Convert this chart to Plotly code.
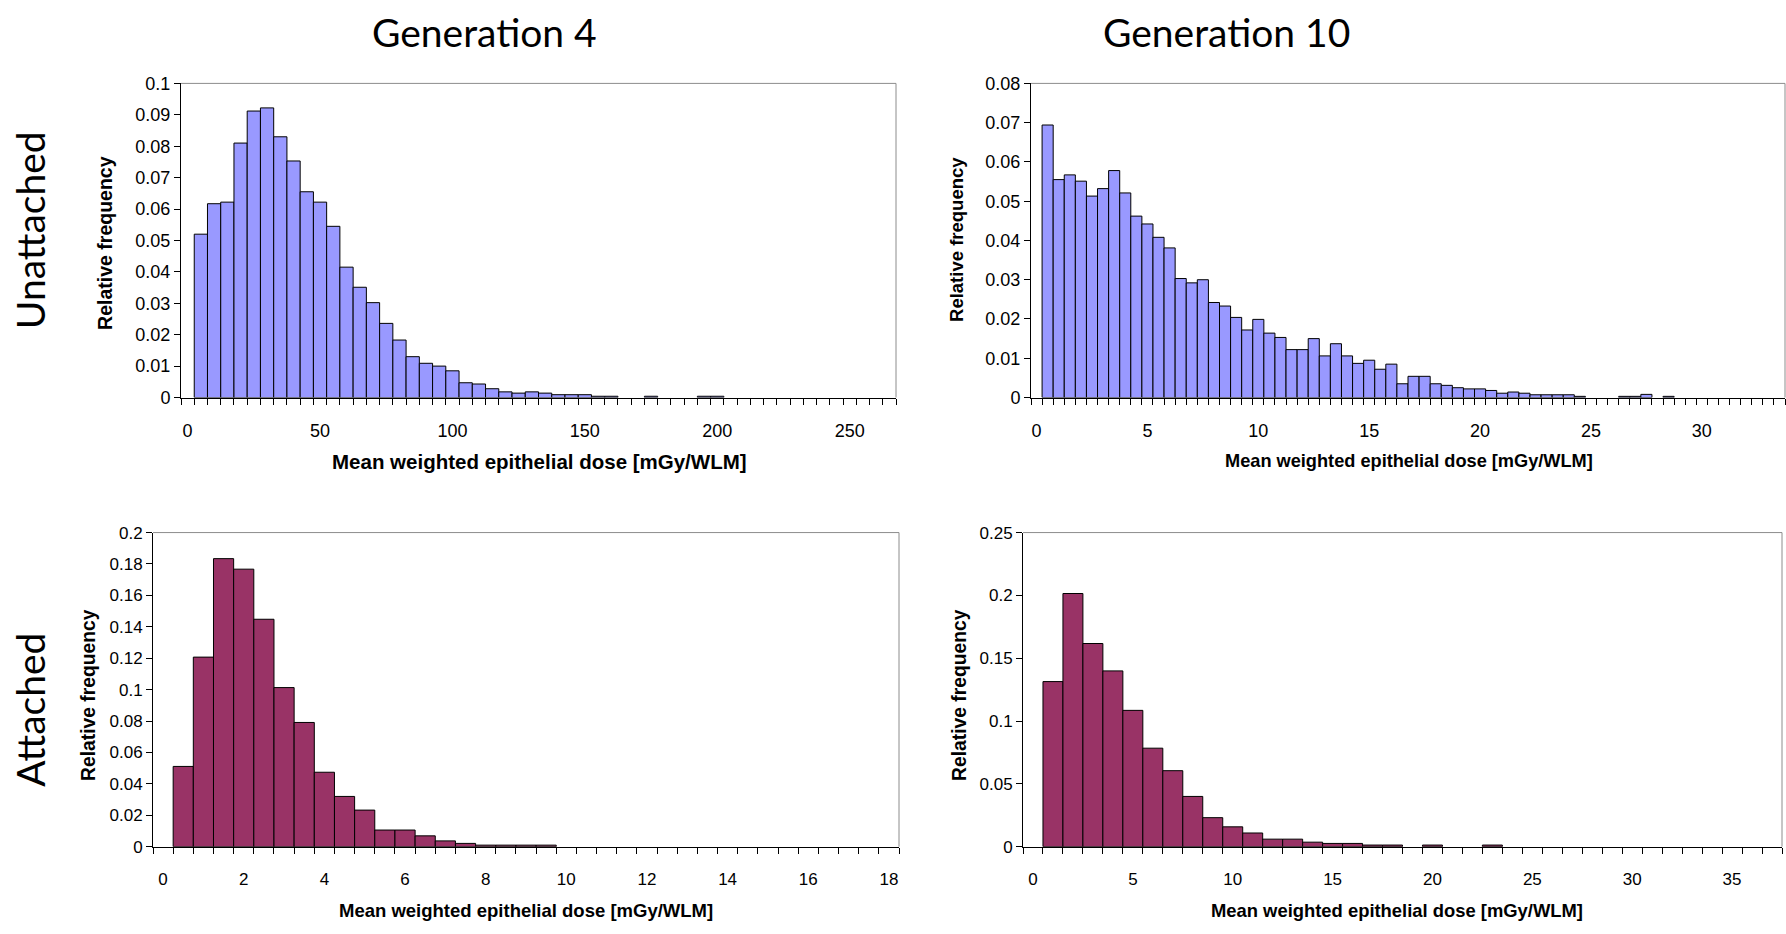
import plotly.graph_objects as go

W, H = 1786, 934

# ---------------- data ----------------
gen4_unatt_dose = [5, 10, 15, 20, 25, 30, 35, 40, 45, 50, 55, 60, 65, 70, 75, 80, 85, 90, 95, 100,
                   105, 110, 115, 120, 125, 130, 135, 140, 145, 150, 155, 160, 165, 170, 175, 180,
                   185, 190, 195, 200]
gen4_unatt_freq = [0.052, 0.0617, 0.0622, 0.081, 0.0912, 0.0922, 0.083, 0.0753, 0.0655, 0.0622,
                   0.0545, 0.0415, 0.0351, 0.0302, 0.0236, 0.0183, 0.013, 0.0109, 0.0100, 0.0085,
                   0.0047, 0.0043, 0.0028, 0.0018, 0.0014, 0.0018, 0.0014, 0.0009, 0.0009, 0.0009,
                   0.0004, 0.0004, 0, 0, 0.0004, 0, 0, 0, 0.0004, 0.0004]

gen10_unatt_dose = [0.5, 1.0, 1.5, 2.0, 2.5, 3.0, 3.5, 4.0, 4.5, 5.0, 5.5, 6.0, 6.5, 7.0, 7.5, 8.0,
                    8.5, 9.0, 9.5, 10.0, 10.5, 11.0, 11.5, 12.0, 12.5, 13.0, 13.5, 14.0, 14.5, 15.0,
                    15.5, 16.0, 16.5, 17.0, 17.5, 18.0, 18.5, 19.0, 19.5, 20.0, 20.5, 21.0, 21.5,
                    22.0, 22.5, 23.0, 23.5, 24.0, 24.5, 25.0, 25.5, 26.0, 26.5, 27.0, 27.5, 28.0, 28.5]
gen10_unatt_freq = [0.0694, 0.0555, 0.0567, 0.0551, 0.0513, 0.0532, 0.0578, 0.0521, 0.0462, 0.0442,
                    0.0408, 0.0381, 0.0303, 0.0292, 0.0300, 0.0242, 0.0233, 0.0204, 0.0172, 0.0199,
                    0.0164, 0.0153, 0.0122, 0.0122, 0.0150, 0.0106, 0.0137, 0.0106, 0.0087, 0.0095,
                    0.0072, 0.0085, 0.0035, 0.0054, 0.0054, 0.0035, 0.0031, 0.0025, 0.0022, 0.0022,
                    0.0018, 0.0011, 0.0014, 0.0011, 0.0007, 0.0007, 0.0007, 0.0007, 0.0003, 0, 0, 0,
                    0.0003, 0.0003, 0.0008, 0, 0.0003]

gen4_att_dose = [0.5, 1.0, 1.5, 2.0, 2.5, 3.0, 3.5, 4.0, 4.5, 5.0, 5.5, 6.0, 6.5, 7.0, 7.5, 8.0,
                 8.5, 9.0, 9.5]
gen4_att_freq = [0.0511, 0.1207, 0.1834, 0.1767, 0.1448, 0.1013, 0.0791, 0.0474, 0.032, 0.0233,
                 0.0106, 0.0106, 0.0069, 0.0037, 0.0021, 0.001, 0.001, 0.001, 0.001]

gen10_att_dose = [1, 2, 3, 4, 5, 6, 7, 8, 9, 10, 11, 12, 13, 14, 15, 16, 17, 18, 19, 20, 21, 22, 23]
gen10_att_freq = [0.1314, 0.2015, 0.1617, 0.1399, 0.1085, 0.0784, 0.0605, 0.040, 0.0231, 0.0158,
                  0.0109, 0.006, 0.006, 0.0036, 0.0026, 0.0026, 0.0013, 0.0013, 0, 0.0013, 0, 0,
                  0.0013]

col_titles = ["Generation 4", "Generation 10"]
row_titles = ["Unattached", "Attached"]
x_title = "Mean weighted epithelial dose [mGy/WLM]"
y_title = "Relative frequency"

# ---------------- panel config ----------------
panels = [
    dict(x=gen4_unatt_dose, y=gen4_unatt_freq, w=5, xr=[-2.5, 267.5],
         xt=[0, 50, 100, 150, 200, 250], ymax=0.1, dy=0.01, color="#9999FF",
         box=(181, 75, 896, 396), tick=18, xtf=20.5, ytf=19.5,
         xtpos=(539, 461), ytpos=(105, 238)),
    dict(x=gen10_unatt_dose, y=gen10_unatt_freq, w=0.5, xr=[-0.25, 33.75],
         xt=[0, 5, 10, 15, 20, 25, 30], ymax=0.08, dy=0.01, color="#9999FF",
         box=(1031, 75, 1785, 396), tick=18, xtf=18.2, ytf=18.5,
         xtpos=(1409, 461), ytpos=(957, 235)),
    dict(x=gen4_att_dose, y=gen4_att_freq, w=0.5, xr=[-0.25, 18.25],
         xt=[0, 2, 4, 6, 8, 10, 12, 14, 16, 18], ymax=0.2, dy=0.02, color="#993366",
         box=(153, 534, 899, 855), tick=17, xtf=18.5, ytf=19.3,
         xtpos=(526, 920), ytpos=(88, 700)),
    dict(x=gen10_att_dose, y=gen10_att_freq, w=1, xr=[-0.5, 37.5],
         xt=[0, 5, 10, 15, 20, 25, 30, 35], ymax=0.25, dy=0.05, color="#993366",
         box=(1023, 534, 1782, 855), tick=17, xtf=18.4, ytf=19.3,
         xtpos=(1397, 920), ytpos=(959, 700)),
]

FONT = "Liberation Sans, Arial, sans-serif"
TITLE_FONT = "Lato, Carlito, Calibri, sans-serif"

fig = go.Figure()
layout = dict(
    width=W, height=H, margin=dict(l=0, r=0, t=0, b=0),
    paper_bgcolor="white", plot_bgcolor="white", showlegend=False,
    font=dict(family=FONT, color="black"),
)
shapes = []
annotations = []

for i, p in enumerate(panels, start=1):
    xa = "x" if i == 1 else f"x{i}"
    ya = "y" if i == 1 else f"y{i}"
    xs = [d for d, f in zip(p["x"], p["y"]) if f > 0]
    ys = [f for f in p["y"] if f > 0]
    fig.add_trace(go.Bar(
        x=xs, y=ys, width=p["w"], xaxis=xa, yaxis=ya,
        marker=dict(color=p["color"], line=dict(color="black", width=1)),
        hoverinfo="x+y",
    ))
    x0, y0, x1, y1 = p["box"]
    xkey = "xaxis" if i == 1 else f"xaxis{i}"
    ykey = "yaxis" if i == 1 else f"yaxis{i}"
    layout[xkey] = dict(
        domain=[x0 / W, x1 / W], anchor=ya, range=p["xr"],
        tickmode="array", tickvals=p["xt"], ticktext=[str(v) for v in p["xt"]],
        ticks="outside", ticklen=17, tickcolor="rgba(0,0,0,0)",
        minor=dict(tickmode="linear", tick0=p["xr"][0], dtick=p["w"], ticks="outside",
                   ticklen=6, tickcolor="black", tickwidth=1, showgrid=False),
        showline=True, linecolor="black", linewidth=1, showgrid=False, zeroline=False,
        tickfont=dict(size=p["tick"], family=FONT, color="black"), fixedrange=True,
    )
    layout[ykey] = dict(
        domain=[1 - y1 / H, 1 - y0 / H], anchor=xa, range=[0, p["ymax"]],
        tickmode="linear", tick0=0, dtick=p["dy"],
        ticks="outside", ticklen=6, tickcolor="black", tickwidth=1,
        showline=True, linecolor="black", linewidth=1, showgrid=False, zeroline=False,
        tickfont=dict(size=p["tick"], family=FONT, color="black"), fixedrange=True,
    )
    shapes.append(dict(type="line", xref=f"{xa} domain", yref=f"{ya} domain",
                       x0=0, x1=1, y0=1, y1=1, line=dict(color="#8c8c8c", width=1)))
    shapes.append(dict(type="line", xref=f"{xa} domain", yref=f"{ya} domain",
                       x0=1, x1=1, y0=0, y1=1, line=dict(color="#8c8c8c", width=1)))
    annotations.append(dict(text=f"<b>{x_title}</b>", xref="paper", yref="paper",
                            x=p["xtpos"][0] / W, y=1 - p["xtpos"][1] / H,
                            xanchor="center", yanchor="middle", showarrow=False,
                            font=dict(size=p["xtf"], family=FONT, color="black")))
    annotations.append(dict(text=f"<b>{y_title}</b>", xref="paper", yref="paper",
                            x=p["ytpos"][0] / W, y=1 - p["ytpos"][1] / H, textangle=-90,
                            xanchor="center", yanchor="middle", showarrow=False,
                            font=dict(size=p["ytf"], family=FONT, color="black")))

for txt, cx in zip(col_titles, [484, 1226]):
    annotations.append(dict(text=txt, xref="paper", yref="paper", x=cx / W, y=1 - 22 / H,
                            xanchor="center", yanchor="middle", showarrow=False,
                            font=dict(size=39, family=TITLE_FONT, color="black")))
for txt, cy in zip(row_titles, [225, 715]):
    annotations.append(dict(text=txt, xref="paper", yref="paper", x=30 / W, y=1 - cy / H,
                            textangle=-90, xanchor="center", yanchor="middle", showarrow=False,
                            font=dict(size=39, family=TITLE_FONT, color="black")))

layout["shapes"] = shapes
layout["annotations"] = annotations
fig.update_layout(**layout)
fig.write_html(
    "out.html",
    config={"displayModeBar": False},
    post_script=(
        "document.documentElement.style.margin='0';"
        "document.body.style.margin='0';document.body.style.padding='0';"
        "var gd=document.getElementById('{plot_id}');"
        "gd.style.position='fixed';gd.style.top='0px';gd.style.left='0px';"
    ),
)
